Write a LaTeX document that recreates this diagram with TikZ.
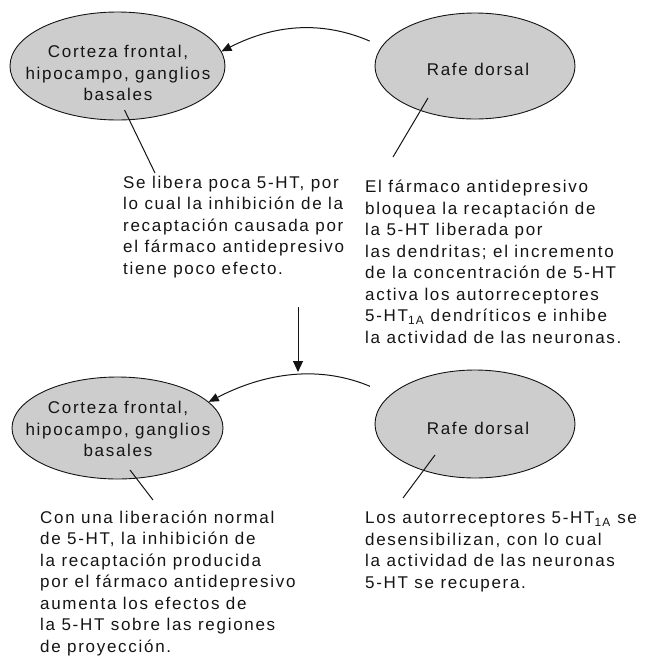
\documentclass[tikz,border=0pt]{standalone}
\usepackage{fontspec}
\setmainfont{Liberation Sans}[LetterSpace=10]
\usetikzlibrary{arrows.meta,shapes.geometric}
\definecolor{rgInk}{HTML}{141414}
\definecolor{rgFill}{HTML}{CDCDCD}
\tikzset{
  region/.style   ={ellipse,draw=rgInk,fill=rgFill,line width=0.9pt,inner sep=0pt},
  rname/.style    ={align=center,inner sep=0pt,text=rgInk,
                    font=\fontsize{17}{21.5}\selectfont},
  %% anchored on the baseline of the last line
  note/.style     ={align=left,inner sep=0pt,anchor=base west,text=rgInk,
                    font=\fontsize{17}{21.5}\selectfont},
  flow/.style     ={-{Triangle[length=10pt,width=8.5pt]},rgInk,line width=1pt},
  lead/.style     ={rgInk,line width=1pt},
}
\begin{document}
\begin{tikzpicture}[x=1pt,y=-1pt]
\useasboundingbox (0,0) rectangle (653,662);
%% before: acute treatment
\node[region,minimum width=215pt,minimum height=108pt] (ctxA) at (117.5,66) {};
\node[region,minimum width=200pt,minimum height=106pt] (rafeA) at (475,66) {};
\node[rname] (ctxAname) at (118,73) {Corteza frontal,\\hipocampo, ganglios\\basales};
\node[rname] (rafeAname) at (478,69) {Rafe dorsal};
\draw[flow,shorten <=13pt] (rafeA.168) to[bend right=25] (ctxA.8);

\node[note] (noteA1) at (123,274)
  {Se libera poca 5-HT, por\\ lo cual la inhibición de la\\ recaptación causada por\\
   el fármaco antidepresivo\\ tiene poco efecto.};
\node[note] (noteA2) at (365,343)
  {El fármaco antidepresivo\\ bloquea la recaptación de\\ la 5-HT liberada por\\
   las dendritas; el incremento\\ de la concentración de 5-HT\\ activa los autorreceptores\\
   5-HT\textsubscript{1A} dendríticos e inhibe\\ la actividad de las neuronas.};
\coordinate (pA1) at (155,173);
\coordinate (pA2) at (393,157);
\draw[lead] ([shift={(7,44)}]ctxA.center) -- (pA1);
\draw[lead] ([shift={(-47,32)}]rafeA.center) -- (pA2);

%% step to chronic treatment
\coordinate (stepTop) at (298,307);
\coordinate (stepEnd) at (298,372);
\draw[flow,-{Triangle[length=11pt,width=10pt]}] (stepTop) -- (stepEnd);

%% after: chronic treatment
\node[region,minimum width=211pt,minimum height=102pt] (ctxB) at (117.5,428) {};
\node[region,minimum width=200pt,minimum height=108pt] (rafeB) at (475,424) {};
\node[rname] (ctxBname) at (118,429) {Corteza frontal,\\hipocampo, ganglios\\basales};
\node[rname] (rafeBname) at (478,428) {Rafe dorsal};
\draw[flow,shorten <=22pt] (rafeB.161) to[bend right=25] (ctxB.16);

\node[note] (noteB1) at (40,652)
  {Con una liberación normal\\ de 5-HT, la inhibición de\\ la recaptación producida\\
   por el fármaco antidepresivo\\ aumenta los efectos de\\ la 5-HT sobre las regiones\\
   de proyección.};
\node[note] (noteB2) at (365,588)
  {Los autorreceptores 5-HT\textsubscript{1A} se\\ desensibilizan, con lo cual\\
   la actividad de las neuronas\\ 5-HT se recupera.};
\coordinate (pB1) at (153,500);
\coordinate (pB2) at (403,498);
\draw[lead] ([shift={(12.5,42)}]ctxB.center) -- (pB1);
\draw[lead] ([shift={(-40,31)}]rafeB.center) -- (pB2);
\end{tikzpicture}
\end{document}
